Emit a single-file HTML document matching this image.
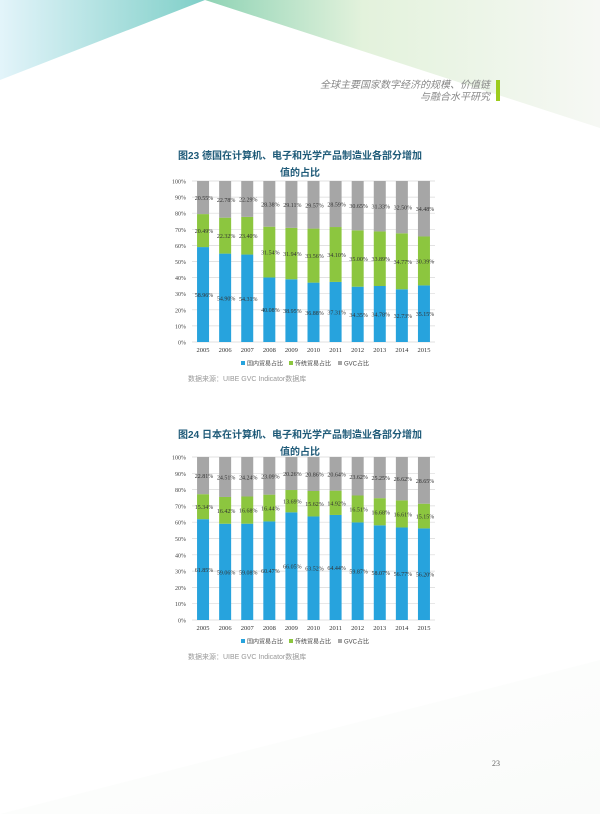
<!DOCTYPE html>
<html><head><meta charset="utf-8"><style>
body{margin:0;width:600px;height:814px;background:#fff;overflow:hidden;font-family:"Liberation Sans","Noto Sans CJK SC",sans-serif}
</style></head><body>
<svg id="page" width="600" height="814" xmlns="http://www.w3.org/2000/svg">
<defs>
<linearGradient id="gl" x1="0" y1="0" x2="1" y2="0"><stop offset="0" stop-color="#e3f4fa"/><stop offset="1" stop-color="#7fcfc8"/></linearGradient>
<linearGradient id="gr" x1="0" y1="0" x2="1" y2="0"><stop offset="0" stop-color="#8fd3b5"/><stop offset="0.4" stop-color="#e3f2dc"/><stop offset="1" stop-color="#f6f8f4"/></linearGradient>
<linearGradient id="gb" x1="0" y1="0" x2="1" y2="1"><stop offset="0" stop-color="#ffffff"/><stop offset="1" stop-color="#f4f7f4"/></linearGradient>
</defs>
<polygon points="0,0 205,0 0,80" fill="url(#gl)"/>
<polygon points="205,0 600,0 600,128" fill="url(#gr)"/>
<polygon points="0,814 600,660 600,814" fill="url(#gb)" opacity="0.5"/>
<text x="490" y="88" font-size="10" fill="#888" text-anchor="end" font-style="italic">全球主要国家数字经济的规模、价值链</text>
<text x="490" y="100" font-size="10" fill="#888" text-anchor="end" font-style="italic">与融合水平研究</text>
<rect x="496" y="80" width="4" height="21" fill="#9ccc1c"/>
<text x="492" y="766" font-size="8" fill="#666" font-family="Liberation Serif">23</text>
<g id="c1"></g><g id="c2"></g>
</svg>
<script>
const years=["2005","2006","2007","2008","2009","2010","2011","2012","2013","2014","2015"];
const yTicks=["0%","10%","20%","30%","40%","50%","60%","70%","80%","90%","100%"];
const legendLabels=["国内贸易占比","传统贸易占比","GVC占比"];
const deDomestic=[58.96,54.90,54.31,40.08,38.95,36.88,37.31,34.35,34.78,32.73,35.15];
const deTraditional=[20.49,22.32,23.40,31.54,31.94,33.56,34.10,35.00,33.89,34.77,30.39];
const deGVC=[20.55,22.78,22.29,28.38,29.11,29.57,28.59,30.65,31.33,32.50,34.48];
const jpDomestic=[61.85,59.06,59.08,60.47,66.05,63.52,64.44,59.87,58.07,56.77,56.20];
const jpTraditional=[15.34,16.42,16.68,16.44,13.69,15.62,14.92,16.51,16.68,16.61,15.15];
const jpGVC=[22.81,24.51,24.24,23.09,20.26,20.86,20.64,23.62,25.25,26.62,28.65];
const colors=["#27a3dd","#8cc63f","#a6a6a6"];
const NS="http://www.w3.org/2000/svg";
function mk(p,tag,a,txt){const e=document.createElementNS(NS,tag);for(const k in a)e.setAttribute(k,a[k]);if(txt!==undefined)e.textContent=txt;p.appendChild(e);return e;}
function chart(g,o){
  const L=192,R=435,top=o.top,bot=o.bot;
  const y=v=>bot-(v/100)*(bot-top);
  const step=(R-L)/years.length;
  const x=i=>L+step*(i+0.5);
  let t=mk(g,'text',{x:300,y:o.titleY,'font-size':10,'font-weight':'bold',fill:'#1e5a78','text-anchor':'middle'},o.title1);
  
  t=mk(g,'text',{x:300,y:o.titleY+17,'font-size':10,'font-weight':'bold',fill:'#1e5a78','text-anchor':'middle'},"值的占比");
  
  yTicks.forEach((lab,i)=>{
    const yy=y(i*10);
    const ln=mk(g,'line',{x1:L,x2:R,y1:yy,y2:yy,stroke:'#d9d9d9','stroke-width':0.7});
    
    const tx=mk(g,'text',{x:L-6,y:yy+2.5,'font-size':6,fill:'#444','text-anchor':'end','font-family':'Liberation Serif'},lab);
    
  });
  const series=[o.a,o.b,o.c];
  years.forEach((yr,i)=>{
    let base=0;
    series.forEach((s,k)=>{
      const v=s[i];
      const r=mk(g,'rect',{x:x(i)-6,y:y(base+v),width:12,height:y(base)-y(base+v),fill:colors[k]});
      
      
      const lb=mk(g,'text',{x:x(i)+1,y:y(base+v/2)+2.5,'font-size':6,fill:'#333','text-anchor':'middle','font-family':'Liberation Serif'},v.toFixed(2)+'%');
      
      base+=v;
    });
    const xl=mk(g,'text',{x:x(i),y:bot+10,'font-size':6.5,fill:'#333','text-anchor':'middle','font-family':'Liberation Serif'},yr);
    
  });
  const lx=[241,289,338];
  legendLabels.forEach((lab,k)=>{
    const r=mk(g,'rect',{x:lx[k],y:bot+19,width:4,height:4,fill:colors[k]});
    
    const tx=mk(g,'text',{x:lx[k]+6,y:bot+23.5,'font-size':6,fill:'#444'},lab);
    
  });
  const src=mk(g,'text',{x:188,y:bot+39,'font-size':7,fill:'#999'},"数据来源：UIBE GVC Indicator数据库");
  
}
const c1=document.getElementById('c1');

chart(c1,{top:181,bot:342,titleY:159,title1:"图23  德国在计算机、电子和光学产品制造业各部分增加",a:deDomestic,b:deTraditional,c:deGVC});
const c2=document.getElementById('c2');

chart(c2,{top:457,bot:620,titleY:438,title1:"图24  日本在计算机、电子和光学产品制造业各部分增加",a:jpDomestic,b:jpTraditional,c:jpGVC});
</script>
</body></html>
